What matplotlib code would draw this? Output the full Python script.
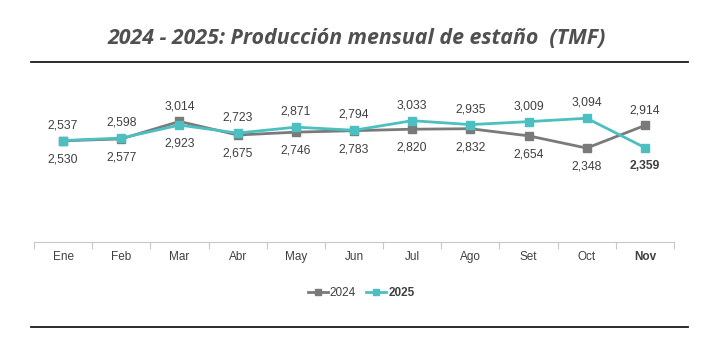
import matplotlib
matplotlib.use("Agg")
import matplotlib.pyplot as plt
from matplotlib.lines import Line2D

months = ["Ene", "Feb", "Mar", "Abr", "May", "Jun", "Jul", "Ago", "Set", "Oct", "Nov"]
prod_2024 = [2530, 2577, 3014, 2675, 2746, 2783, 2820, 2832, 2654, 2348, 2914]
prod_2025 = [2537, 2598, 2923, 2723, 2871, 2794, 3033, 2935, 3009, 3094, 2359]
series_names = ["2024", "2025"]

c24 = "#7a7a7a"
c25 = "#4cbfc0"
txt = "#404040"

fig = plt.figure(figsize=(7.19, 3.59), dpi=100)
ax = fig.add_axes([34/719, 1 - 242/359, 640/719, 160/359])

x = list(range(len(months)))
ax.plot(x, prod_2024, color=c24, lw=2, marker="s", ms=5.5, zorder=3)
ax.plot(x, prod_2025, color=c25, lw=2, marker="s", ms=5.5, zorder=4)

ax.set_xlim(-0.5, len(months) - 0.5)
ax.set_ylim(0, 4000)
ax.set_yticks([])
for s in ["top", "right", "left"]:
    ax.spines[s].set_visible(False)
ax.spines["bottom"].set_color("#c8c8c8")
ax.set_xticks([i - 0.5 for i in range(len(months) + 1)], minor=False)
ax.set_xticklabels([])
ax.tick_params(axis="x", which="major", length=5, color="#c8c8c8", direction="out")
ax.set_xticks(x, minor=True)
ax.set_xticklabels(months, minor=True)
ax.tick_params(axis="x", which="minor", length=0, pad=6.5, labelsize=8.5, labelcolor=txt)
for lbl in ax.get_xticklabels(minor=True):
    lbl.set_fontfamily("Liberation Sans")
    if lbl.get_text() == "Nov":
        lbl.set_fontweight("bold")

last = len(months) - 1
for i in x:
    a, b = prod_2024[i], prod_2025[i]
    hi_is_24 = a > b
    hi, lo = (a, b) if hi_is_24 else (b, a)
    ax.annotate(f"{hi:,}", (i, hi), xytext=(0, 11), textcoords="offset points",
                ha="center", va="center", fontsize=8.7, color=txt, family="Liberation Sans",
                fontweight="bold" if (i == last and not hi_is_24) else "normal")
    ax.annotate(f"{lo:,}", (i, lo), xytext=(0, -13.5), textcoords="offset points",
                ha="center", va="center", fontsize=8.7, color=txt, family="Liberation Sans",
                fontweight="bold" if (i == last and hi_is_24) else "normal")

handles = [Line2D([], [], color=c24, lw=2, marker="s", ms=4.5),
           Line2D([], [], color=c25, lw=2, marker="s", ms=4.5)]
leg = fig.legend(handles, series_names, loc="center", bbox_to_anchor=(361/719, 1 - 293/359),
                 ncol=2, frameon=False, handlelength=1.7, handletextpad=0.15,
                 columnspacing=0.9, prop={"family": "Liberation Sans", "size": 8.5})
for t in leg.get_texts():
    t.set_color(txt)
leg.get_texts()[1].set_fontweight("bold")

fig.text(357/719, 1 - 38.5/359, "2024 - 2025: Producción mensual de estaño  (TMF)",
         ha="center", va="center", fontsize=15.4, fontweight="bold", fontstyle="italic",
         color="#505050", family="Open Sans")

fig.add_artist(Line2D([31/719, 688/719], [1 - 62/359] * 2, color="#1a1a1a", lw=1.3))
fig.add_artist(Line2D([31/719, 688/719], [1 - 327/359] * 2, color="#1a1a1a", lw=1.3))

fig.savefig("out.png", dpi=100)
